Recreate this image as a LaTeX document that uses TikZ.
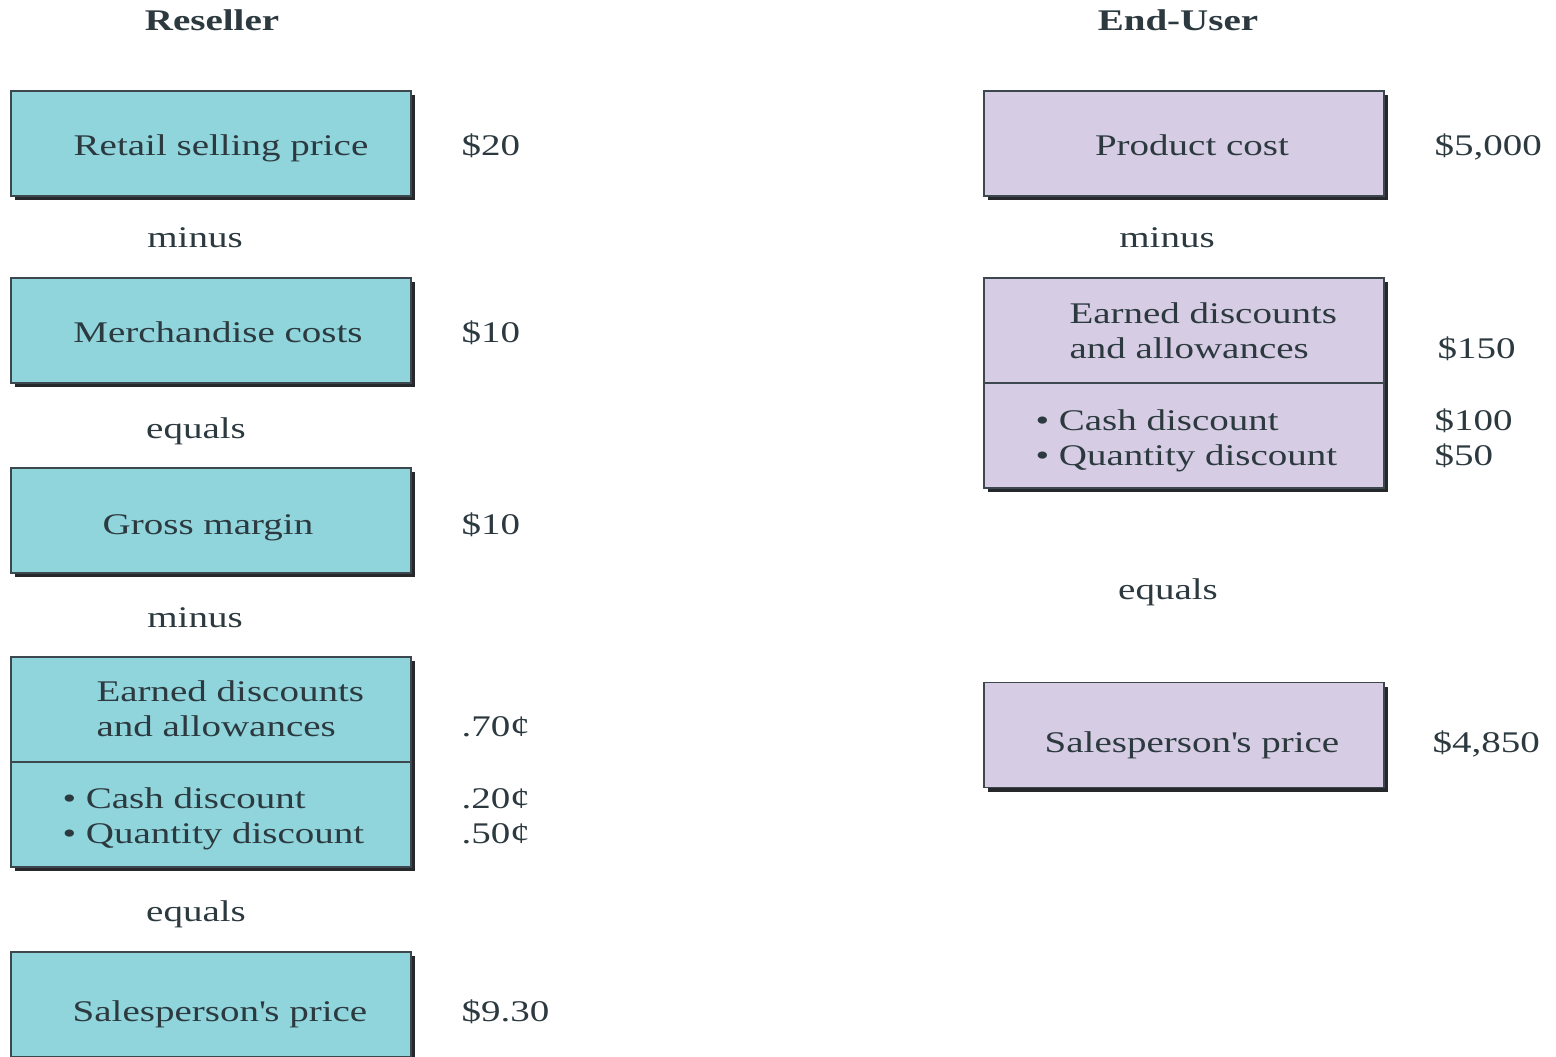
\documentclass[tikz,border=0pt]{standalone}
\usepackage{fontspec}
\setmainfont{Liberation Serif}[FakeStretch=1.3]
\usetikzlibrary{positioning, shadows}
\definecolor{resellerteal}{RGB}{144, 212, 220}
\definecolor{enduserlilac}{RGB}{214, 205, 228}
\definecolor{inkslate}{RGB}{44, 58, 64}
\definecolor{edgeslate}{RGB}{60, 72, 78}
\definecolor{shadowdark}{RGB}{38, 40, 44}

\begin{document}
\begin{tikzpicture}[x=1pt, y=-1pt,
    every node/.style={text=inkslate, font=\fontsize{30}{35}\selectfont},
    pricebox/.style={draw=edgeslate, line width=1.2pt, minimum width=400pt, inner sep=0pt,
      drop shadow={shadow xshift=4pt, shadow yshift=-4pt, fill=shadowdark, opacity=1}},
    amount/.style={anchor=base west},
    stepword/.style={anchor=base},
    itemtext/.style={anchor=base west, align=left}]
    \useasboundingbox (0,0) rectangle (1556,1057);
    % Titles
    \node[stepword, font=\fontsize{30}{35}\selectfont\bfseries] (reseller) at (212,31) {Reseller};
    \node[stepword, font=\fontsize{30}{35}\selectfont\bfseries] (enduser) at (1178,31) {End-User};
    % Reseller boxes
    \node[pricebox, fill=resellerteal, minimum height=105pt] (retail) at (211,143.5) {};
    \node[pricebox, fill=resellerteal, minimum height=105pt] (merch) at (211,330.5) {};
    \node[pricebox, fill=resellerteal, minimum height=105pt] (gross) at (211,520.5) {};
    \node[pricebox, fill=resellerteal, minimum height=210pt] (rdisc) at (211,762) {};
    \node[pricebox, fill=resellerteal, minimum height=105pt] (rsales) at (211,1004.5) {};
    \draw[edgeslate, line width=1.2pt] (rdisc.west |- 0,762) -- (rdisc.east |- 0,762);
    \node[stepword] (retailtxt) at (221,155) {Retail selling price};
    \node[stepword] (merchtxt) at (218,342) {Merchandise costs};
    \node[stepword] (grosstxt) at (208,534) {Gross margin};
    \node[itemtext] (rdisctxt) at (93,736) {Earned discounts\\and allowances};
    \node[itemtext] (rcashtxt) at (59,843) {\textbullet\ Cash discount\\\textbullet\ Quantity discount};
    \node[stepword] (rsalestxt) at (220,1021) {Salesperson\textquotesingle s price};
    % Reseller amounts
    \foreach \y/\v/\n in {155/{\$20}/a, 342/{\$10}/b, 534/{\$10}/c, 736/{.70¢}/d, 808/{.20¢}/e, 843/{.50¢}/f, 1021/{\$9.30}/g}{
      \node[amount] (ramt\n) at (458,\y) {\v};
    }
    % End-user boxes
    \node[pricebox, fill=enduserlilac, minimum height=105pt] (product) at (1184,143.5) {};
    \node[pricebox, fill=enduserlilac, minimum height=210pt] (edisc) at (1184,383) {};
    \node[pricebox, fill=enduserlilac, minimum height=105pt] (esales) at (1184,735) {};
    \draw[edgeslate, line width=1.2pt] (edisc.west |- 0,383) -- (edisc.east |- 0,383);
    \node[stepword] (producttxt) at (1192,155) {Product cost};
    \node[itemtext] (edisctxt) at (1066,358) {Earned discounts\\and allowances};
    \node[itemtext] (ecashtxt) at (1032,465) {\textbullet\ Cash discount\\\textbullet\ Quantity discount};
    \node[stepword] (esalestxt) at (1192,752) {Salesperson\textquotesingle s price};
    % End-user amounts
    \foreach \x/\y/\v/\n in {1431/155/{\$5,000}/a, 1434/358/{\$150}/b, 1431/430/{\$100}/c, 1431/465/{\$50}/d, 1429/752/{\$4,850}/e}{
      \node[amount] (eamt\n) at (\x,\y) {\v};
    }
    % Step words
    \foreach \x/\y/\w/\n in {195/247/minus/a, 196/438/equals/b, 195/627/minus/c, 196/921/equals/d, 1167/247/minus/e, 1168/599/equals/f}{
      \node[stepword] (step\n) at (\x,\y) {\w};
    }
\end{tikzpicture}
\end{document}
